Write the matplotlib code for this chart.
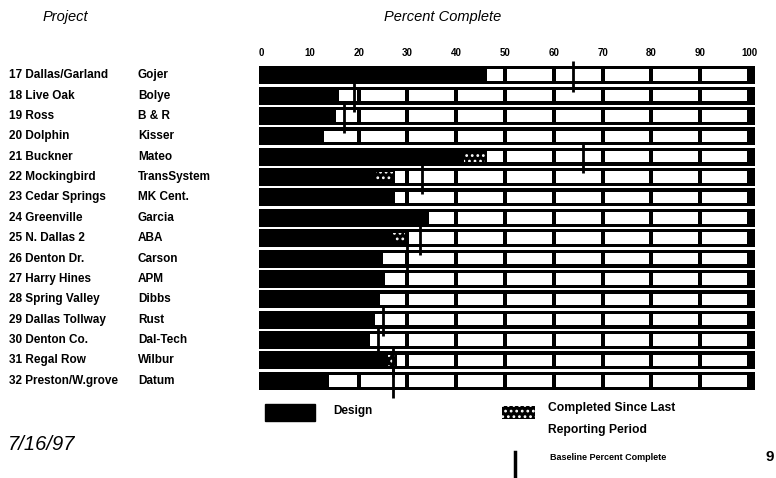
import matplotlib.pyplot as plt
import numpy as np
from matplotlib.patches import Rectangle
from matplotlib.transforms import blended_transform_factory

plt.rcParams["font.family"] = ["Liberation Sans", "DejaVu Sans"]
plt.rcParams["hatch.linewidth"] = 1.2

# data
row_ids = [17, 18, 19, 20, 21, 22, 23, 24, 25, 26, 27, 28, 29, 30, 31, 32]
projects = [
    "Dallas/Garland", "Live Oak", "Ross", "Dolphin", "Buckner", "Mockingbird",
    "Cedar Springs", "Greenville", "N. Dallas 2", "Denton Dr.", "Harry Hines",
    "Spring Valley", "Dallas Tollway", "Denton Co.", "Regal Row", "Preston/W.grove",
]
contractors = [
    "Gojer", "Bolye", "B & R", "Kisser", "Mateo", "TransSystem", "MK Cent.",
    "Garcia", "ABA", "Carson", "APM", "Dibbs", "Rust", "Dal-Tech", "Wilbur", "Datum",
]
design_pct = [46, 15.5, 15, 12.5, 46, 27, 27, 34, 29.5, 24.5, 25, 24, 23, 22, 27.5, 13.5]
since_last_pct = [0, 0, 0, 0, 4.5, 3.5, 0, 0, 2.5, 0, 0, 0, 0, 0, 1.5, 0]
baseline_pct = [64, 19, 17, np.nan, 66, 33, np.nan, np.nan, 32.5, 30, np.nan, np.nan,
                25, 24, 27, 27]
ticks = list(range(0, 101, 10))

W, H = 776, 478
fig = plt.figure(figsize=(W / 100, H / 100), dpi=100)


def fx(px):
    return px / W


def fy(py):
    return 1 - py / H


# bar area: 0% at x=261px, 100% at x=749px, rows from y=65px to y=391px
ax = fig.add_axes([fx(261), fy(391), fx(749) - fx(261), fy(65) - fy(391)])
ax.set_xlim(0, 100)
ax.set_ylim(len(row_ids) - 0.5, -0.5)
for s in ax.spines.values():
    s.set_visible(False)
ax.set_yticks([])
ax.xaxis.tick_top()
ax.set_xticks(ticks)
ax.set_xticklabels([str(t) for t in ticks], fontsize=7, fontweight="bold")
ax.tick_params(axis="x", length=0, pad=5)

y = np.arange(len(row_ids))
gap = 0.4
# black outer bar (frame + dividers)
ax.barh(y, 101.6, left=-0.4, height=0.88, color="black", clip_on=False)

# white cells for the part not yet complete
for i, d in enumerate(design_pct):
    for k in range(10):
        lo = max(k * 10, d) + gap
        hi = k * 10 + 10 - gap
        if hi - lo > 0.2:
            ax.barh(i, hi - lo, left=lo, height=0.56, color="white", clip_on=False)

# completed since last reporting period (speckled black)
for i, (d, s) in enumerate(zip(design_pct, since_last_pct)):
    if s > 0:
        ax.barh(i, s, left=d - s, height=0.5, color="black", edgecolor="white",
                linewidth=0, hatch="...")

# baseline markers
for i, b in enumerate(baseline_pct):
    if not np.isnan(b):
        ax.plot([b, b], [i - 0.72, i + 0.82], color="black", lw=2.0,
                solid_capstyle="butt", clip_on=False)

# row labels
tr = blended_transform_factory(fig.transFigure, ax.transData)
for i in range(len(row_ids)):
    ax.text(fx(9), i, f"{row_ids[i]} {projects[i]}", transform=tr, fontsize=8.5,
            fontweight="bold", va="center", ha="left")
    ax.text(fx(138), i, contractors[i], transform=tr, fontsize=8.5,
            fontweight="bold", va="center", ha="left")

# headers
fig.text(fx(43), fy(17), "Project", fontsize=10.5, style="italic", va="center")
fig.text(fx(443), fy(17), "Percent Complete", fontsize=10.5, style="italic",
         va="center", ha="center")

# legend
fig.add_artist(Rectangle((fx(265), fy(421)), fx(50), fy(404) - fy(421),
                         transform=fig.transFigure, color="black"))
fig.text(fx(333), fy(411), "Design", fontsize=8.5, fontweight="bold", va="center")
fig.add_artist(Rectangle((fx(502), fy(419)), fx(33), fy(406) - fy(419),
                         transform=fig.transFigure, facecolor="black",
                         edgecolor="white", linewidth=0, hatch="..."))
fig.text(fx(548), fy(408), "Completed Since Last", fontsize=8.7, fontweight="bold",
         va="center")
fig.text(fx(548), fy(430), "Reporting Period", fontsize=8.7, fontweight="bold",
         va="center")
fig.add_artist(plt.Line2D([fx(515), fx(515)], [fy(452), fy(477)],
                          transform=fig.transFigure, color="black", lw=2.5))
fig.text(fx(550), fy(458), "Baseline Percent Complete", fontsize=6.5,
         fontweight="bold", va="center")

fig.text(fx(8), fy(445), "7/16/97", fontsize=14.5, style="italic", va="center")
fig.text(fx(766), fy(457), "9", fontsize=11, fontweight="bold", va="center")

fig.savefig("out.png", dpi=100, facecolor="white")
